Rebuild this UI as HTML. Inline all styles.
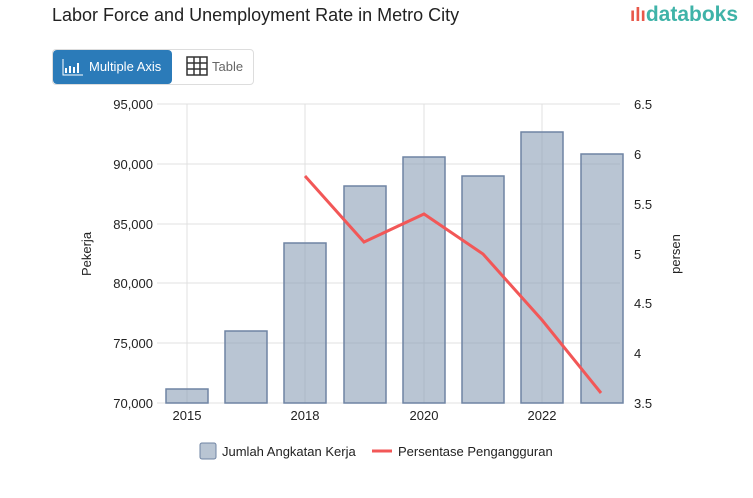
<!DOCTYPE html><html><head><style>body{margin:0;width:753px;height:498px;background:#fff;font-family:"Liberation Sans",sans-serif;overflow:hidden;position:relative}</style></head><body>
<div style="position:absolute;left:52px;top:5px;font-size:18px;color:#222">Labor Force and Unemployment Rate in Metro City</div>
<div style="position:absolute;left:630px;top:3px;font-size:21px;color:#3fb3a8;font-weight:bold;letter-spacing:0px"><span style="color:#e8584a;font-size:19px">ılı</span>databoks</div>
<div style="position:absolute;left:52px;top:49px;width:200px;height:34px;border:1px solid #ddd;border-radius:4px"></div>
<div style="position:absolute;left:53px;top:50px;width:119px;height:34px;background:#2b7bb9;border-radius:4px;color:#fff;font-size:13px;line-height:34px;padding-left:36px;box-sizing:border-box">Multiple Axis</div>
<svg style="position:absolute;left:62px;top:57px" width="22" height="20"><path d="M1 2V18H21" stroke="#fff" fill="none"/><path d="M4 16V11M8 16V9M12 16V10M16 16V6" stroke="#fff" stroke-width="2"/></svg>
<svg style="position:absolute;left:186px;top:56px" width="22" height="20"><rect x="1" y="1" width="20" height="18" fill="none" stroke="#333" stroke-width="1.5"/><path d="M1 7H21M1 13H21M8 1V19M14 1V19" stroke="#333" stroke-width="1.5"/></svg>
<div style="position:absolute;left:212px;top:59px;font-size:13px;color:#666">Table</div>
<svg style="position:absolute;left:0;top:0" width="753" height="498" font-family="Liberation Sans" font-size="13" fill="#222">
<g stroke="#e0e0e0">
<line x1="157" x2="620" y1="104" y2="104"/><line x1="157" x2="620" y1="164" y2="164"/><line x1="157" x2="620" y1="224" y2="224"/><line x1="157" x2="620" y1="283" y2="283"/><line x1="157" x2="620" y1="343" y2="343"/><line x1="157" x2="620" y1="403" y2="403"/>
<line x1="187" x2="187" y1="104" y2="403"/><line x1="305" x2="305" y1="104" y2="403"/><line x1="424" x2="424" y1="104" y2="403"/><line x1="542" x2="542" y1="104" y2="403"/>
</g>
<g fill="rgba(139,158,181,0.6)" stroke="#6f84a3" stroke-width="1.5">
<rect x="166" y="389" width="42" height="14"/><rect x="225" y="331" width="42" height="72"/><rect x="284" y="243" width="42" height="160"/><rect x="344" y="186" width="42" height="217"/><rect x="403" y="157" width="42" height="246"/><rect x="462" y="176" width="42" height="227"/><rect x="521" y="132" width="42" height="271"/><rect x="581" y="154" width="42" height="249"/>
</g>
<polyline points="305,176 364,242 424,214 483,254 542,320 601,393" fill="none" stroke="#f25757" stroke-width="3"/>
<g text-anchor="end"><text x="153" y="109">95,000</text><text x="153" y="169">90,000</text><text x="153" y="229">85,000</text><text x="153" y="288">80,000</text><text x="153" y="348">75,000</text><text x="153" y="408">70,000</text></g>
<g><text x="634" y="109">6.5</text><text x="634" y="159">6</text><text x="634" y="209">5.5</text><text x="634" y="259">5</text><text x="634" y="308">4.5</text><text x="634" y="358">4</text><text x="634" y="408">3.5</text></g>
<g text-anchor="middle"><text x="187" y="420">2015</text><text x="305" y="420">2018</text><text x="424" y="420">2020</text><text x="542" y="420">2022</text></g>
<text transform="translate(91,254) rotate(-90)" text-anchor="middle">Pekerja</text>
<text transform="translate(680,254) rotate(-90)" text-anchor="middle">persen</text>
<rect x="200" y="443" width="16" height="16" rx="2" fill="rgba(139,158,181,0.6)" stroke="#6f84a3"/>
<text x="222" y="456">Jumlah Angkatan Kerja</text>
<line x1="372" x2="392" y1="451" y2="451" stroke="#f25757" stroke-width="3"/>
<text x="398" y="456">Persentase Pengangguran</text>
</svg>
</body></html>
